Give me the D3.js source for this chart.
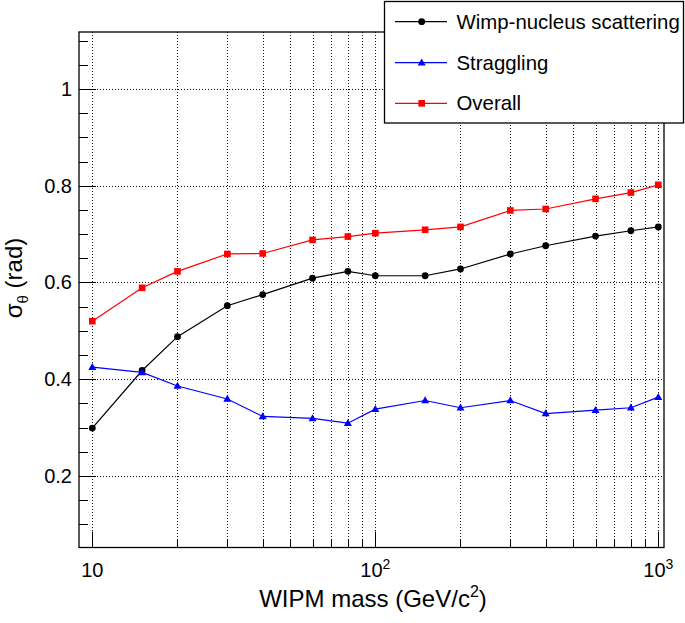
<!DOCTYPE html>
<html><head><meta charset="utf-8">
<script src="https://cdn.jsdelivr.net/npm/d3@7"></script>
<style>html,body{margin:0;padding:0;background:#fff;}svg{display:block;font-family:"Liberation Sans",Arial,Helvetica,sans-serif;}</style>
</head><body>
<svg id="c" width="685" height="623"></svg>
<script>
// ---- data ----
const masses = [10, 15, 20, 30, 40, 60, 80, 100, 150, 200, 300, 400, 600, 800, 1000];
const wimpScattering = [0.299, 0.418, 0.488, 0.552, 0.575, 0.609, 0.623, 0.614, 0.614, 0.628, 0.659, 0.676, 0.696, 0.707, 0.715];
const straggling = [0.425, 0.414, 0.386, 0.359, 0.323, 0.319, 0.309, 0.338, 0.356, 0.341, 0.356, 0.329, 0.336, 0.341, 0.363];
const overall = [0.520, 0.589, 0.623, 0.659, 0.660, 0.688, 0.695, 0.702, 0.709, 0.715, 0.749, 0.752, 0.773, 0.786, 0.802];
const seriesNames = ["Wimp-nucleus scattering", "Straggling", "Overall"];
const yMajorTicks = [0.2, 0.4, 0.6, 0.8, 1];
const yMajorLabels = ["0.2", "0.4", "0.6", "0.8", "1"];
const yMinorTicks = [0.1, 0.15, 0.25, 0.3, 0.35, 0.45, 0.5, 0.55, 0.65, 0.7, 0.75, 0.85, 0.9, 0.95, 1.05, 1.1];
const xMajorTicks = [10, 100, 1000];
const xMajorExponents = ["", "2", "3"];
const xMinorTicks = [20, 30, 40, 50, 60, 70, 80, 90, 200, 300, 400, 500, 600, 700, 800, 900];
const xTitle = "WIPM mass (GeV/c";
const yTitle = "(rad)";

// ---- layout ----
const L = 79, R = 664, T = 32, B = 547.5;
const svg = d3.select("#c");
const x = d3.scaleLog().domain([8.974, 1047.4]).range([L, R]);
const y = d3.scaleLinear().domain([0.052, 1.118]).range([B, T]);

// grid
const grid = svg.append("g").attr("stroke", "#111").attr("stroke-width", 1).attr("stroke-dasharray", "1,2");
xMajorTicks.concat(xMinorTicks).forEach(v => {
  const px = Math.round(x(v)) + 0.5;
  grid.append("line").attr("x1", px).attr("x2", px).attr("y1", T).attr("y2", B);
});
yMajorTicks.forEach(v => {
  const py = Math.round(y(v)) + 0.5;
  grid.append("line").attr("x1", L).attr("x2", R).attr("y1", py).attr("y2", py);
});

// ticks
const tk = svg.append("g").attr("stroke", "#000").attr("stroke-width", 1);
xMajorTicks.forEach(v => { const px = Math.round(x(v)) + 0.5; tk.append("line").attr("x1", px).attr("x2", px).attr("y1", B).attr("y2", B - 16); });
xMinorTicks.forEach(v => { const px = Math.round(x(v)) + 0.5; tk.append("line").attr("x1", px).attr("x2", px).attr("y1", B).attr("y2", B - 8); });
yMajorTicks.forEach(v => { const py = Math.round(y(v)) + 0.5; tk.append("line").attr("x1", L).attr("x2", L + 17).attr("y1", py).attr("y2", py); });
yMinorTicks.forEach(v => { const py = Math.round(y(v)) + 0.5; tk.append("line").attr("x1", L).attr("x2", L + 9).attr("y1", py).attr("y2", py); });

// frame
svg.append("rect").attr("x", L).attr("y", T).attr("width", R - L).attr("height", B - T)
  .attr("fill", "none").attr("stroke", "#000").attr("stroke-width", 1.3);

// y labels
yMajorTicks.forEach((v, i) => {
  svg.append("text").attr("x", 72).attr("y", y(v) + 7).attr("text-anchor", "end")
    .attr("font-size", 20).text(yMajorLabels[i]);
});
// x labels
xMajorTicks.forEach((v, i) => {
  const t = svg.append("text").attr("x", x(v)).attr("y", 577).attr("text-anchor", "middle").attr("font-size", 20);
  t.append("tspan").text("10");
  if (xMajorExponents[i]) t.append("tspan").attr("dy", -8).attr("font-size", 14).text(xMajorExponents[i]);
});

// axis titles
const xt = svg.append("text").attr("x", 373).attr("y", 607).attr("text-anchor", "middle").attr("font-size", 24);
xt.append("tspan").text(xTitle);
xt.append("tspan").attr("dy", -10).attr("font-size", 16).text("2");
xt.append("tspan").attr("dy", 10).text(")");

const yt = svg.append("text").attr("transform", "translate(22,278) rotate(-90)").attr("text-anchor", "middle").attr("font-size", 24);
yt.append("tspan").text("σ");
yt.append("tspan").attr("dy", 6).attr("font-size", 15).text("θ");
yt.append("tspan").attr("dy", -6).text(" " + yTitle);

// series
const series = [
  {name: seriesNames[0], vals: wimpScattering, color: "#000", shape: "circle"},
  {name: seriesNames[1], vals: straggling, color: "#0000ff", shape: "triangle"},
  {name: seriesNames[2], vals: overall, color: "#ff0000", shape: "square"}
];
function marker(g, shape, cx, cy, color) {
  if (shape === "circle") g.append("circle").attr("cx", cx).attr("cy", cy).attr("r", 3.4).attr("fill", color);
  else if (shape === "square") g.append("rect").attr("x", cx - 3.3).attr("y", cy - 3.3).attr("width", 6.6).attr("height", 6.6).attr("fill", color);
  else g.append("path").attr("d", `M${cx},${cy - 4.2}L${cx + 4},${cy + 2.8}L${cx - 4},${cy + 2.8}Z`).attr("fill", color);
}
const line = d3.line().x(d => x(d[0])).y(d => y(d[1]));
series.forEach(s => {
  const pts = masses.map((m, i) => [m, s.vals[i]]);
  svg.append("path").attr("d", line(pts)).attr("fill", "none").attr("stroke", s.color).attr("stroke-width", 1.2);
  const g = svg.append("g");
  pts.forEach(p => marker(g, s.shape, x(p[0]), y(p[1]), s.color));
});

// legend
svg.append("rect").attr("x", 384.5).attr("y", 1.5).attr("width", 299).attr("height", 121.5)
  .attr("fill", "#fff").attr("stroke", "#000").attr("stroke-width", 1.3);
const rowsY = [21.7, 62.7, 103.3];
series.forEach((s, i) => {
  svg.append("line").attr("x1", 395).attr("x2", 447).attr("y1", rowsY[i]).attr("y2", rowsY[i])
    .attr("stroke", s.color).attr("stroke-width", 1.3);
  marker(svg, s.shape, 421.7, rowsY[i], s.color);
  svg.append("text").attr("x", 456.5).attr("y", rowsY[i] + 7).attr("font-size", 20.4).text(s.name);
});
</script>
</body></html>
